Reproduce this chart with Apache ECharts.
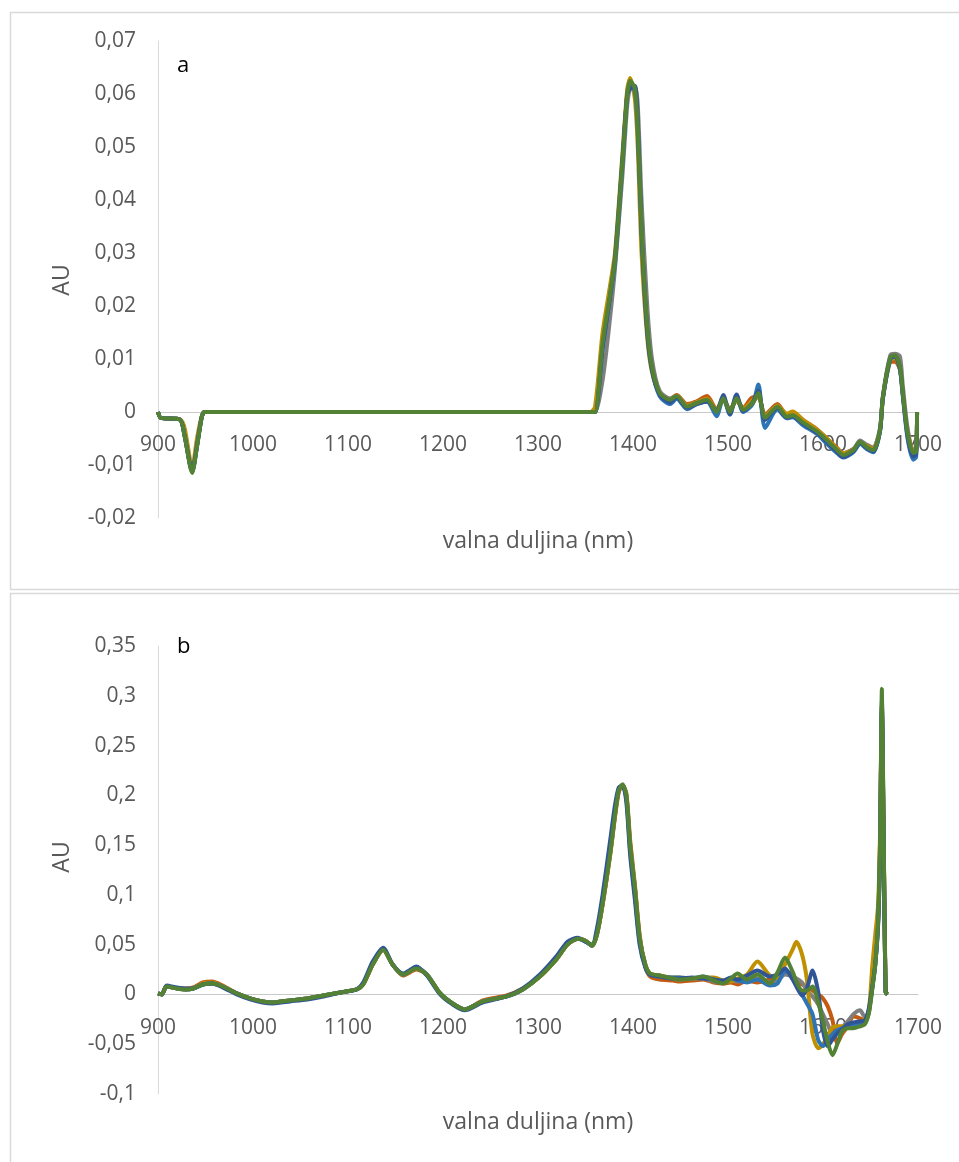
<!DOCTYPE html>
<html><head><meta charset="utf-8">
<script src="https://cdn.jsdelivr.net/npm/echarts@6/dist/echarts.min.js"></script>
<style>html,body{margin:0;padding:0;background:#fff;}#c{width:959px;height:1162px;}</style>
</head><body><div id="c"></div>
<script>
// ---------- Panel a ----------
const A_X = [900, 903, 923, 928, 936, 941, 946, 949, 1000, 1100,
  1200, 1300, 1355, 1360, 1368, 1376, 1381, 1389, 1394, 1397, 1402,
  1405, 1409, 1415, 1420, 1428, 1439, 1446, 1457, 1467, 1478,
  1488, 1495, 1502, 1509, 1516, 1526, 1532, 1539, 1552, 1562,
  1568, 1579, 1594, 1604, 1615, 1621, 1632, 1639, 1646, 1653,
  1660, 1663, 1671, 1676, 1681, 1684, 1689, 1695, 1698, 1699];
const A_ORANGE = [0, -0.0011, -0.0014, -0.0043, -0.011, -0.0062, -0.001, 0, 0, 0,
  0, 0, 0, 0, 0.013, 0.022, 0.028, 0.047, 0.0605, 0.062, 0.0605,
  0.053, 0.034, 0.0158, 0.0085, 0.0037, 0.0025, 0.0032, 0.0015, 0.002, 0.003,
  0.0005, 0.0025, 0.0005, 0.0022, 0.0008, 0.0028, 0.0028, -0.0005, 0.0015, -0.0005,
  0, -0.0015, -0.0033, -0.005, -0.0068, -0.0078, -0.007, -0.006, -0.0062, -0.0068,
  -0.0034, 0.0025, 0.0095, 0.0095, 0.008, 0.0035, -0.0038, -0.0072, -0.007, 0];
const A_GRAY = [0, -0.0011, -0.0014, -0.0045, -0.0113, -0.0065, -0.001, 0, 0, 0,
  0, 0, 0, 0, 0.006, 0.018, 0.027, 0.045, 0.058, 0.061, 0.0615,
  0.058, 0.040, 0.020, 0.010, 0.004, 0.0025, 0.003, 0.0012, 0.0018, 0.0022,
  0.0002, 0.0024, 0.0002, 0.0024, 0.0005, 0.0018, 0.0032, -0.0008, 0.0012, -0.0007,
  -0.0005, -0.0018, -0.0035, -0.0052, -0.007, -0.0078, -0.007, -0.0054, -0.0062, -0.0068,
  -0.003, 0.003, 0.0108, 0.011, 0.0105, 0.005, -0.003, -0.0075, -0.0072, 0];
const A_GOLD = [0, -0.0011, -0.0014, -0.003, -0.0105, -0.005, -0.0008, 0, 0, 0,
  0, 0, 0, 0.001, 0.015, 0.024, 0.030, 0.049, 0.061, 0.063, 0.059,
  0.050, 0.030, 0.014, 0.0075, 0.0035, 0.002, 0.003, 0.0012, 0.0018, 0.0025,
  0.0003, 0.0024, 0.0002, 0.0023, 0.0006, 0.0022, 0.003, -0.0008, 0.0012, -0.0003,
  0.0001, -0.0015, -0.0034, -0.005, -0.007, -0.0078, -0.0072, -0.0058, -0.0064, -0.007,
  -0.0034, 0.0026, 0.0098, 0.0102, 0.0082, 0.0034, -0.004, -0.0076, -0.0074, 0];
const A_BLUE = [0, -0.0011, -0.0014, -0.0045, -0.0112, -0.0065, -0.001, 0, 0, 0,
  0, 0, 0, 0, 0.012, 0.022, 0.028, 0.047, 0.060, 0.0615, 0.0605,
  0.053, 0.034, 0.0155, 0.008, 0.003, 0.0015, 0.0025, 0.0005, 0.0015, 0.002,
  -0.0008, 0.0028, -0.0005, 0.003, 0, 0.0015, 0.0052, -0.003, 0.0005, -0.0012,
  -0.001, -0.0025, -0.0042, -0.006, -0.0078, -0.0086, -0.0076, -0.006, -0.007, -0.0076,
  -0.0036, 0.0025, 0.010, 0.0105, 0.008, 0.003, -0.005, -0.009, -0.0085, 0];
const A_NAVY = [0, -0.0011, -0.0014, -0.0045, -0.0112, -0.0064, -0.001, 0, 0, 0,
  0, 0, 0, 0, 0.012, 0.022, 0.029, 0.048, 0.060, 0.061, 0.0615,
  0.055, 0.034, 0.015, 0.008, 0.0033, 0.0018, 0.0028, 0.0008, 0.0015, 0.002,
  0.0002, 0.0032, -0.0004, 0.0033, 0.0002, 0.0018, 0.004, -0.0015, 0.0008, -0.0011,
  -0.0008, -0.0022, -0.0039, -0.0056, -0.0076, -0.0085, -0.0074, -0.0058, -0.0068, -0.0074,
  -0.0036, 0.0026, 0.0102, 0.0105, 0.0083, 0.0034, -0.0045, -0.0084, -0.008, 0];
const A_GREEN = [0, -0.0011, -0.0014, -0.0045, -0.0115, -0.0066, -0.001, 0, 0, 0,
  0, 0, 0, 0, 0.013, 0.0224, 0.0286, 0.0475, 0.060, 0.0625, 0.061,
  0.0537, 0.0348, 0.016, 0.0085, 0.0036, 0.0023, 0.003, 0.001, 0.0017, 0.0023,
  0.0, 0.0026, 0.0, 0.0026, 0.0004, 0.0017, 0.0036, -0.0011, 0.001, -0.0009,
  -0.0006, -0.002, -0.0037, -0.0053, -0.0072, -0.0081, -0.0072, -0.0056, -0.0066, -0.0072,
  -0.0034, 0.0028, 0.0104, 0.0107, 0.0085, 0.0036, -0.004, -0.0077, -0.0075, 0];

// ---------- Panel b ----------
const B_X = [900, 904, 909, 920, 930, 937, 947, 957, 968, 983,
  997, 1010, 1021, 1039, 1057, 1074, 1092, 1109, 1116, 1126,
  1137, 1147, 1158, 1172, 1183, 1197, 1210, 1223, 1242, 1267,
  1284, 1302, 1320, 1331, 1342, 1350, 1357, 1362, 1368, 1376,
  1381, 1385, 1389, 1393, 1397, 1402, 1407, 1413, 1418, 1428,
  1442, 1449, 1462, 1474, 1485, 1495, 1503, 1510, 1520, 1531,
  1544, 1552, 1560, 1568, 1572, 1578, 1583, 1589, 1595, 1600,
  1605, 1610, 1615, 1620, 1626, 1632, 1639, 1644, 1648, 1652,
  1655, 1658, 1660, 1662, 1664, 1666, 1668];
const B_ORANGE = [0.001, 0, 0.008, 0.006, 0.006, 0.007, 0.012, 0.013, 0.009, 0.001,
  -0.004, -0.007, -0.008, -0.006, -0.004, -0.001, 0.002, 0.005, 0.010, 0.030,
  0.045, 0.030, 0.019, 0.025, 0.020, 0.001, -0.009, -0.015, -0.006, -0.001,
  0.006, 0.018, 0.036, 0.050, 0.056, 0.054, 0.049, 0.060, 0.090, 0.140,
  0.178, 0.203, 0.210, 0.202, 0.155, 0.110, 0.060, 0.028, 0.018, 0.015,
  0.014, 0.013, 0.014, 0.015, 0.012, 0.011, 0.012, 0.010, 0.014, 0.012,
  0.015, 0.016, 0.022, 0.018, 0.014, 0.010, 0.008, 0.004, 0.000, -0.004,
  -0.012, -0.026, -0.049, -0.040, -0.032, -0.022, -0.024, -0.026, -0.018, 0.010,
  0.035, 0.075, 0.150, 0.290, 0.145, 0.002, 0];
const B_GRAY = [0.001, 0, 0.008, 0.006, 0.005, 0.006, 0.010, 0.011, 0.008, 0.001,
  -0.004, -0.007, -0.008, -0.006, -0.004, -0.001, 0.002, 0.005, 0.010, 0.030,
  0.045, 0.030, 0.020, 0.026, 0.020, 0.001, -0.009, -0.015, -0.007, -0.002,
  0.005, 0.018, 0.036, 0.050, 0.056, 0.054, 0.049, 0.060, 0.091, 0.142,
  0.180, 0.205, 0.211, 0.200, 0.150, 0.107, 0.057, 0.030, 0.021, 0.019,
  0.016, 0.015, 0.016, 0.016, 0.013, 0.012, 0.014, 0.013, 0.015, 0.016,
  0.012, 0.014, 0.020, 0.018, 0.016, 0.012, 0.004, -0.002, -0.010, -0.020,
  -0.030, -0.040, -0.038, -0.033, -0.027, -0.020, -0.016, -0.022, -0.020, 0.008,
  0.030, 0.074, 0.150, 0.295, 0.145, 0.002, 0];
const B_GOLD = [0.001, 0, 0.008, 0.006, 0.005, 0.006, 0.011, 0.012, 0.008, 0.001,
  -0.004, -0.007, -0.008, -0.006, -0.004, -0.001, 0.002, 0.005, 0.010, 0.030,
  0.045, 0.030, 0.020, 0.026, 0.020, 0.001, -0.009, -0.015, -0.007, -0.002,
  0.005, 0.018, 0.036, 0.050, 0.056, 0.054, 0.049, 0.060, 0.091, 0.142,
  0.180, 0.205, 0.210, 0.200, 0.150, 0.107, 0.057, 0.030, 0.021, 0.019,
  0.017, 0.017, 0.016, 0.017, 0.017, 0.014, 0.013, 0.016, 0.020, 0.033,
  0.019, 0.017, 0.030, 0.045, 0.053, 0.040, 0.015, -0.040, -0.054, -0.050,
  -0.042, -0.033, -0.032, -0.032, -0.032, -0.031, -0.029, -0.025, -0.019, 0.030,
  0.060, 0.090, 0.160, 0.280, 0.140, 0.002, 0];
const B_BLUE = [0.001, 0, 0.008, 0.006, 0.005, 0.006, 0.010, 0.011, 0.008, 0.001,
  -0.004, -0.007, -0.008, -0.006, -0.004, -0.001, 0.002, 0.005, 0.011, 0.031,
  0.046, 0.030, 0.020, 0.027, 0.020, 0.001, -0.009, -0.015, -0.007, -0.002,
  0.005, 0.019, 0.037, 0.051, 0.056, 0.053, 0.049, 0.062, 0.095, 0.148,
  0.185, 0.206, 0.210, 0.197, 0.145, 0.100, 0.053, 0.028, 0.020, 0.018,
  0.017, 0.017, 0.016, 0.018, 0.015, 0.013, 0.016, 0.014, 0.012, 0.015,
  0.009, 0.011, 0.023, 0.020, 0.010, 0.000, -0.009, -0.020, -0.046, -0.052,
  -0.045, -0.040, -0.036, -0.034, -0.032, -0.030, -0.030, -0.028, -0.018, 0.008,
  0.030, 0.070, 0.140, 0.285, 0.140, 0.002, 0];
const B_NAVY = [0.001, 0, 0.009, 0.007, 0.006, 0.006, 0.010, 0.011, 0.007, 0.000,
  -0.005, -0.008, -0.009, -0.007, -0.005, -0.002, 0.002, 0.005, 0.012, 0.033,
  0.047, 0.030, 0.021, 0.028, 0.019, 0.000, -0.010, -0.016, -0.008, -0.002,
  0.006, 0.020, 0.039, 0.053, 0.057, 0.053, 0.050, 0.066, 0.100, 0.155,
  0.190, 0.208, 0.210, 0.193, 0.140, 0.095, 0.050, 0.027, 0.020, 0.018,
  0.016, 0.016, 0.017, 0.016, 0.015, 0.014, 0.017, 0.015, 0.019, 0.024,
  0.018, 0.020, 0.026, 0.015, 0.008, -0.001, 0.006, 0.024, 0.002, -0.036,
  -0.052, -0.045, -0.039, -0.035, -0.030, -0.028, -0.027, -0.026, -0.015, 0.008,
  0.030, 0.070, 0.140, 0.290, 0.140, 0.002, 0];
const B_GREEN = [0.001, 0, 0.008, 0.006, 0.005, 0.006, 0.010, 0.011, 0.008, 0.001,
  -0.004, -0.007, -0.008, -0.006, -0.004, -0.001, 0.002, 0.005, 0.010, 0.030,
  0.045, 0.030, 0.020, 0.026, 0.020, 0.001, -0.009, -0.015, -0.007, -0.002,
  0.005, 0.018, 0.036, 0.050, 0.056, 0.054, 0.049, 0.060, 0.091, 0.142,
  0.180, 0.205, 0.211, 0.200, 0.150, 0.107, 0.057, 0.030, 0.021, 0.019,
  0.016, 0.015, 0.016, 0.018, 0.014, 0.011, 0.016, 0.021, 0.015, 0.020,
  0.011, 0.022, 0.037, 0.023, 0.013, 0.004, 0.004, 0.008, -0.008, -0.027,
  -0.048, -0.061, -0.050, -0.037, -0.034, -0.034, -0.032, -0.030, -0.020, 0.006,
  0.030, 0.074, 0.150, 0.307, 0.150, 0.002, 0];

const X_TICKS = [900, 1000, 1100, 1200, 1300, 1400, 1500, 1600, 1700];
const X_TITLE = 'valna duljina (nm)';
const Y_TITLE = 'AU';

const COLORS = { orange: '#C55A11', gray: '#7F7F7F', gold: '#BF9000', blue: '#2E75B6', navy: '#2F5597', green: '#548235' };
const FONT = '"Open Sans", sans-serif';
const TXT = '#595959';

const GRIDS = [
  { left: 158, top: 41, width: 760, height: 477 },
  { left: 158, top: 646, width: 760, height: 448 }
];
const YR = [[-0.02, 0.07, 0.01], [-0.1, 0.35, 0.05]];

function pairs(xs, ys) { return xs.map((x, i) => [x, ys[i]]); }
function fmt(v) { return String(parseFloat(v.toFixed(4))).replace('.', ','); }

function mkSeries(idx, xs, sets) {
  return sets.map(([name, ys]) => ({
    type: 'line', xAxisIndex: idx, yAxisIndex: idx, name,
    data: pairs(xs, ys), showSymbol: false, smooth: 0.25,
    lineStyle: { width: 4, color: COLORS[name] }, itemStyle: { color: COLORS[name] },
    silent: true, animation: false, z: 2
  }));
}

function xAxis(idx) {
  const g = GRIDS[idx], [mn, mx] = YR[idx];
  const zeroPx = g.top + g.height * mx / (mx - mn);
  const distBottom = g.top + g.height - zeroPx;
  return {
    type: 'value', gridIndex: idx, min: X_TICKS[0], max: X_TICKS[X_TICKS.length - 1], interval: 100,
    axisLine: { show: true, onZero: true, lineStyle: { color: '#C8C8C8', width: 1 } },
    axisTick: { show: false }, splitLine: { show: false },
    axisLabel: { color: TXT, fontFamily: FONT, fontSize: 21, margin: 23 - distBottom, showMaxLabel: true, showMinLabel: true,
      formatter: v => String(v) }
  };
}
function yAxis(idx) {
  const [min, max, step] = YR[idx];
  return {
    type: 'value', gridIndex: idx, min, max, interval: step,
    axisLine: { show: true, lineStyle: { color: '#D9D9D9', width: 1 } },
    axisTick: { show: false }, splitLine: { show: false },
    axisLabel: { color: TXT, fontFamily: FONT, fontSize: 21, margin: 22, formatter: fmt }
  };
}

const chart = echarts.init(document.getElementById('c'), null, { renderer: 'canvas' });
chart.setOption({
  backgroundColor: '#ffffff',
  animation: false,
  grid: GRIDS,
  xAxis: [xAxis(0), xAxis(1)],
  yAxis: [yAxis(0), yAxis(1)],
  series: [
    ...mkSeries(0, A_X, [['orange', A_ORANGE], ['gray', A_GRAY], ['gold', A_GOLD], ['blue', A_BLUE], ['navy', A_NAVY], ['green', A_GREEN]]),
    ...mkSeries(1, B_X, [['orange', B_ORANGE], ['gray', B_GRAY], ['gold', B_GOLD], ['blue', B_BLUE], ['navy', B_NAVY], ['green', B_GREEN]])
  ],
  graphic: [
    { type: 'rect', shape: { x: 10.5, y: 12.5, width: 960, height: 577 }, style: { fill: 'none', stroke: '#D9D9D9', lineWidth: 1.5 }, z: -1 },
    { type: 'rect', shape: { x: 10.5, y: 593.5, width: 960, height: 600 }, style: { fill: 'none', stroke: '#D9D9D9', lineWidth: 1.5 }, z: -1 },
    { type: 'text', left: 177, top: 55, style: { text: 'a', font: '22px "Open Sans", sans-serif', fill: '#000' } },
    { type: 'text', left: 177, top: 636, style: { text: 'b', font: '22px "Open Sans", sans-serif', fill: '#000' } },
    { type: 'text', x: 538, y: 541, style: { text: X_TITLE, font: '23px "Open Sans", sans-serif', fill: TXT, align: 'center', verticalAlign: 'middle' } },
    { type: 'text', x: 538, y: 1122, style: { text: X_TITLE, font: '23px "Open Sans", sans-serif', fill: TXT, align: 'center', verticalAlign: 'middle' } },
    { type: 'text', x: 62, y: 280, rotation: Math.PI / 2, style: { text: Y_TITLE, font: '23px "Open Sans", sans-serif', fill: TXT, align: 'center', verticalAlign: 'middle' } },
    { type: 'text', x: 62, y: 857, rotation: Math.PI / 2, style: { text: Y_TITLE, font: '23px "Open Sans", sans-serif', fill: TXT, align: 'center', verticalAlign: 'middle' } }
  ]
});
</script></body></html>
